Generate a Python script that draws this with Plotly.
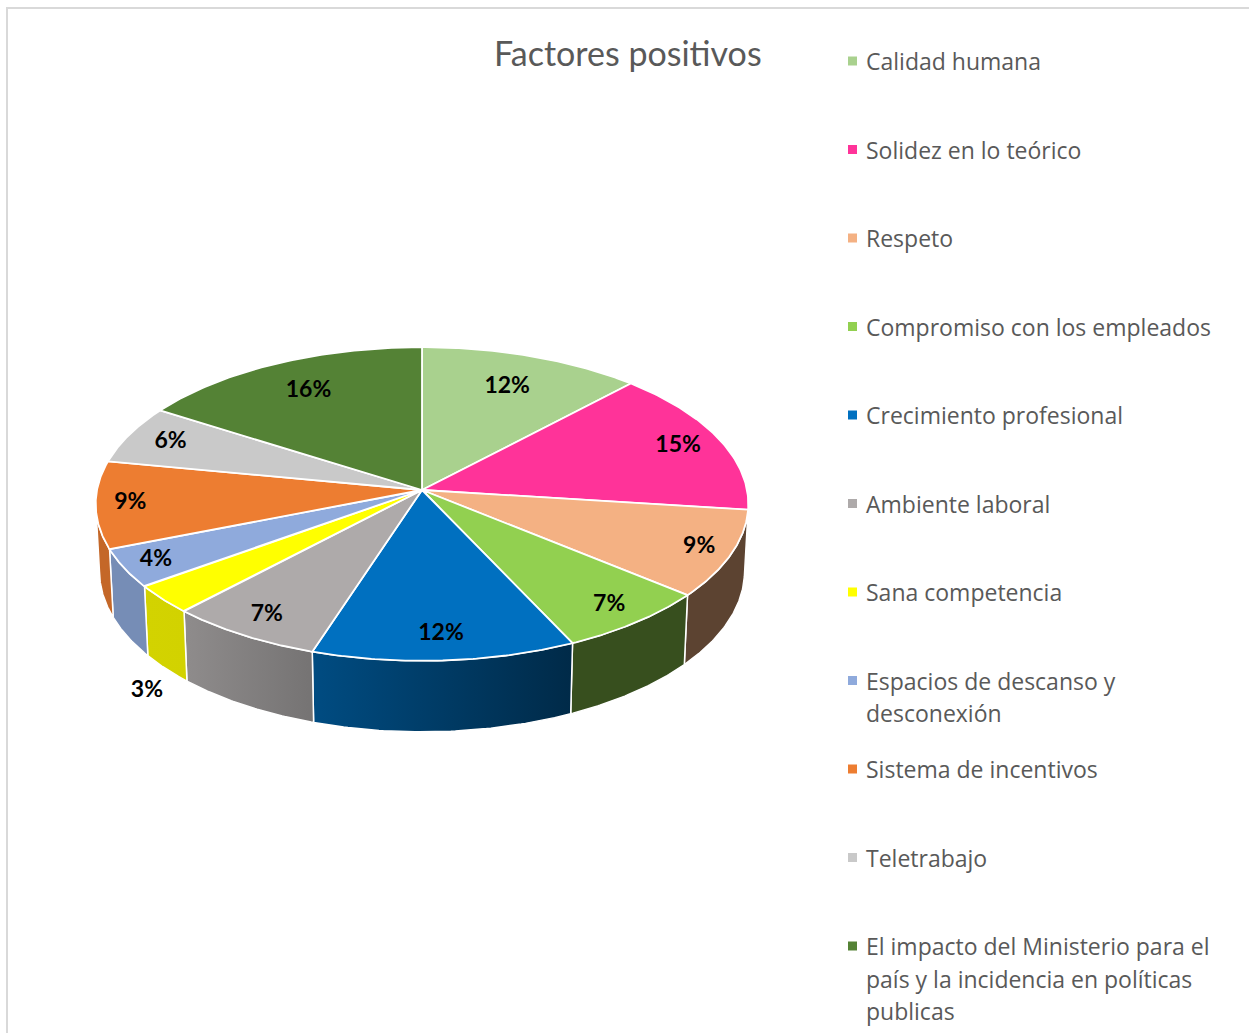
import textwrap
import numpy as np
import plotly.graph_objects as go

# ---- data ----
categories = [
    "Calidad humana",
    "Solidez en lo teórico",
    "Respeto",
    "Compromiso con los empleados",
    "Crecimiento profesional",
    "Ambiente laboral",
    "Sana competencia",
    "Espacios de descanso y desconexión",
    "Sistema de incentivos",
    "Teletrabajo",
    "El impacto del Ministerio para el país y la incidencia en políticas publicas",
]
values = [12, 15, 9, 7, 12, 7, 3, 4, 9, 6, 16]
colors = [
    "#a9d18e", "#ff3399", "#f4b183", "#92d050", "#0070c0", "#aeaaaa",
    "#ffff00", "#8faadc", "#ed7d31", "#c9c9c9", "#548235",
]
title_text = "Factores positivos"

# ---- 3-D pie seen from above with perspective (pixel space) ----
W, H = 1249, 1033
APX, APY = 422, 490          # projected centre of the top disc
SCALE = 325.0                # projected radius scale
ELEV = np.radians(28.6)      # viewing elevation
PERSP = 0.1017               # radius / camera distance
THICK = 0.2365               # pie thickness relative to its radius
SIN_E, COS_E = np.sin(ELEV), np.cos(ELEV)


def project(theta_deg, r=1.0, bottom=False):
    """Project a point of the disc (angle clockwise from the back, radius r)."""
    t = np.radians(theta_deg)
    hn = THICK if bottom else 0.0
    depth = 1 + PERSP * r * np.cos(t) * COS_E + PERSP * hn * SIN_E
    up = r * np.cos(t) * SIN_E - hn * COS_E
    return APX + SCALE * r * np.sin(t) / depth, APY - SCALE * up / depth


def shade(hexcol, f):
    h = hexcol.lstrip("#")
    r, g, b = (int(h[i:i + 2], 16) for i in (0, 2, 4))
    return "rgb({},{},{})".format(int(r * f), int(g * f), int(b * f))


def light(x):
    # side walls are lit from the left, darker towards the right
    u = (x - (APX - SCALE)) / (2 * SCALE)
    return float(np.clip(0.83 - (u - 0.13) * 0.75, 0.38, 0.83))


total = float(sum(values))
bounds = np.concatenate([[0.0], np.cumsum(values)]) / total * 360.0

# silhouette angles of the cylinder wall
sil = np.degrees(np.arccos(-PERSP * COS_E))
vis_lo, vis_hi = sil, 360.0 - sil

fig = go.Figure()

# side walls (front part of the cylinder)
for i, v in enumerate(values):
    a0, a1 = bounds[i], bounds[i + 1]
    s, e = max(a0, vis_lo), min(a1, vis_hi)
    if e <= s:
        continue
    th = np.linspace(s, e, 60)
    xt, yt = project(th)
    xb, yb = project(th, bottom=True)
    xs = np.concatenate([xt, xb[::-1], xt[:1]])
    ys = np.concatenate([yt, yb[::-1], yt[:1]])
    cl, cr = shade(colors[i], light(xs.min())), shade(colors[i], light(xs.max()))
    fig.add_trace(go.Scatter(
        x=xs, y=ys, mode="lines", fill="toself",
        fillgradient=dict(type="horizontal", colorscale=[[0, cl], [1, cr]]),
        line=dict(color="white", width=1.5),
        hoverinfo="skip", showlegend=False,
    ))

# top faces
for i, v in enumerate(values):
    a0, a1 = bounds[i], bounds[i + 1]
    th = np.linspace(a0, a1, 80)
    xt, yt = project(th)
    xs = np.concatenate([[APX], xt, [APX]])
    ys = np.concatenate([[APY], yt, [APY]])
    fig.add_trace(go.Scatter(
        x=xs, y=ys, mode="lines", fill="toself", fillcolor=colors[i],
        line=dict(color="white", width=1.8),
        name=categories[i], hoverinfo="name", showlegend=False,
    ))

# data labels
lx, ly, lt = [], [], []
for i, v in enumerate(values):
    mid = (bounds[i] + bounds[i + 1]) / 2
    t = np.radians(mid)
    if v <= 3:
        x, y = project(mid, 1.07, bottom=True)
        y += 14
    else:
        r = 0.80 - 0.06 * np.cos(t) + 0.09 * np.sin(t) ** 2
        x, y = project(mid, r)
    lx.append(float(x))
    ly.append(float(y))
    lt.append(f"{v}%")

fig.add_trace(go.Scatter(
    x=lx, y=ly, text=lt, mode="text",
    textfont=dict(family="Lato", size=23, color="black", weight="bold"),
    hoverinfo="skip", showlegend=False,
))

# legend: square swatches and wrapped labels
LEG_X, LEG_Y0, LEG_STEP, LINE_H = 852.5, 61, 88.5, 32.7
fig.add_trace(go.Scatter(
    x=[LEG_X] * len(categories),
    y=[LEG_Y0 + LEG_STEP * i for i in range(len(categories))],
    mode="markers",
    marker=dict(symbol="square", size=9, color=colors, line=dict(width=0)),
    hoverinfo="skip", showlegend=False,
))
annotations = []
for i, name in enumerate(categories):
    for j, line in enumerate(textwrap.wrap(name, 33)):
        annotations.append(dict(
            x=864, y=LEG_Y0 + LEG_STEP * i + LINE_H * j, xref="x", yref="y",
            text=line, showarrow=False, xanchor="left", yanchor="middle",
            font=dict(family="Open Sans", size=23, color="#595959"),
        ))

annotations.append(dict(
    x=628, y=52, xref="x", yref="y", text=title_text, showarrow=False,
    xanchor="center", yanchor="middle",
    font=dict(family="Lato", size=34, color="#595959", weight=400),
))

fig.update_layout(
    width=W, height=H,
    margin=dict(l=0, r=0, t=0, b=0),
    paper_bgcolor="white", plot_bgcolor="white",
    xaxis=dict(range=[0, W], visible=False, fixedrange=True),
    yaxis=dict(range=[H, 0], visible=False, fixedrange=True),
    annotations=annotations,
    shapes=[dict(type="rect", xref="x", yref="y", x0=7, y0=8, x1=W + 20, y1=H + 20,
                 line=dict(color="#d9d9d9", width=2), layer="below")],
    showlegend=False,
)

fig.write_html("out.html")
